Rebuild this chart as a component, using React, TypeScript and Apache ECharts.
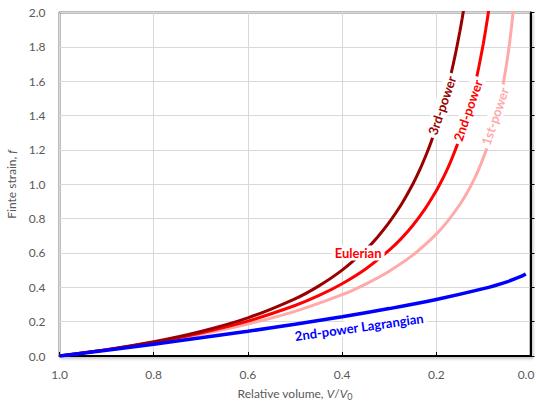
import React, { useEffect, useRef } from "react";
import * as echarts from "echarts";

// Relative volume (V/V0) and finite strain (f)
const thirdV = [1.0, 0.9, 0.8, 0.7, 0.6, 0.5, 0.45, 0.4, 0.35, 0.325, 0.3, 0.275, 0.25, 0.235, 0.22, 0.21, 0.2, 0.18, 0.17, 0.16, 0.15, 0.145, 0.14];
const thirdF = [0, 0.037, 0.083, 0.143, 0.222, 0.333, 0.407, 0.5, 0.619, 0.692, 0.778, 0.879, 1.0, 1.085, 1.182, 1.254, 1.333, 1.519, 1.627, 1.75, 1.889, 1.966, 2.048];

const secondV = [1.0, 0.9, 0.8, 0.7, 0.6, 0.5, 0.45, 0.4, 0.35, 0.3, 0.275, 0.25, 0.225, 0.2, 0.19, 0.18, 0.17, 0.16, 0.15, 0.14, 0.13, 0.12, 0.11, 0.1, 0.095, 0.09, 0.085];
const secondF = [0, 0.036, 0.08, 0.134, 0.203, 0.294, 0.351, 0.421, 0.507, 0.616, 0.682, 0.76, 0.852, 0.962, 1.013, 1.068, 1.129, 1.197, 1.271, 1.354, 1.448, 1.555, 1.678, 1.821, 1.902, 1.99, 2.086];

const firstV = [1.0, 0.9, 0.8, 0.7, 0.6, 0.5, 0.4, 0.35, 0.3, 0.25, 0.2, 0.175, 0.15, 0.135, 0.12, 0.11, 0.1, 0.09, 0.08, 0.07, 0.06, 0.055, 0.05, 0.045, 0.04, 0.036];
const firstF = [0, 0.036, 0.077, 0.126, 0.186, 0.26, 0.357, 0.419, 0.494, 0.587, 0.71, 0.788, 0.882, 0.949, 1.027, 1.087, 1.154, 1.231, 1.321, 1.426, 1.554, 1.63, 1.714, 1.811, 1.924, 2.028];

const lagrangeV = [1.0, 0.9, 0.8, 0.7, 0.6, 0.5, 0.4, 0.3, 0.2, 0.1, 0.05, 0.02, 0.01];
const lagrangeF = [0, 0.034, 0.069, 0.106, 0.144, 0.185, 0.229, 0.276, 0.329, 0.392, 0.432, 0.463, 0.477];

// Curve labels: text, anchor [V/V0, f], rotation
const curveLabels = [
  { text: "3rd-power", at: [0.188, 1.459], rotate: 71 },
  { text: "2nd-power", at: [0.133, 1.43], rotate: 71 },
  { text: "1st-power", at: [0.0755, 1.395], rotate: 71 },
  { text: "Eulerian", at: [0.366, 0.599], rotate: 0 },
  { text: "2nd-power Lagrangian", at: [0.364, 0.169], rotate: 8 },
];

const FONT = "Lato, 'Open Sans', sans-serif";

const zip = (xs: number[], ys: number[]) => xs.map((x, i) => [x, ys[i]]);

const labelItem = (idx: number, color: string) => {
  const l = curveLabels[idx];
  return {
    coord: l.at,
    label: {
      show: true,
      position: "inside",
      formatter: l.text,
      rotate: l.rotate,
      color,
      fontWeight: "bold",
      fontSize: 13,
      fontFamily: FONT,
      backgroundColor: "#ffffff",
      padding: [1, 3, 1, 3],
    },
  };
};

const marks = (items: any[]) => ({
  symbol: "circle",
  symbolSize: 0,
  silent: true,
  data: items,
});

export default function App() {
  const ref = useRef<HTMLDivElement>(null);
  useEffect(() => {
    if (!ref.current) return;
    const chart = echarts.init(ref.current, null, { renderer: "svg" });
    const lineSeries = (name: string, data: number[][], color: string, width: number, mp: any) => ({
      name,
      type: "line",
      data,
      smooth: 0.2,
      showSymbol: false,
      symbol: "none",
      clip: true,
      lineStyle: { color, width },
      itemStyle: { color },
      markPoint: mp,
    });
    chart.setOption({
      animation: false,
      backgroundColor: "#ffffff",
      grid: {
        left: 59.5,
        right: 5.5,
        top: 12.5,
        bottom: 46,
        outerBoundsMode: "none",
        containLabel: false,
        show: true,
        backgroundColor: "#ffffff",
        borderColor: "#000000",
        borderWidth: 1.5,
        shadowColor: "rgba(0,0,0,0.25)",
        shadowBlur: 3,
        shadowOffsetX: 2,
        shadowOffsetY: 2,
      },
      xAxis: {
        type: "value",
        inverse: true,
        min: 0,
        max: 1,
        interval: 0.2,
        name: "{a|Relative volume, }{i|V}{a|/}{i|V}{s|0}",
        nameLocation: "middle",
        nameGap: 30,
        nameTextStyle: {
          rich: {
            a: { fontFamily: FONT, fontSize: 12, color: "#595959" },
            i: { fontFamily: FONT, fontSize: 12, color: "#595959", fontStyle: "italic" },
            s: { fontFamily: FONT, fontSize: 9, color: "#595959", verticalAlign: "bottom", padding: [6, 0, 0, 0] },
          },
        },
        axisLine: { show: true, lineStyle: { color: "#000000", width: 2 } },
        axisTick: { show: true, inside: true, length: 4, lineStyle: { color: "#000000", width: 1 } },
        axisLabel: {
          formatter: (v: number) => (v === 0 ? "{e|0.0}" : v.toFixed(1)),
          color: "#595959",
          fontFamily: FONT,
          fontSize: 12,
          margin: 12,
          rich: {
            e: { color: "#595959", fontFamily: FONT, fontSize: 12, padding: [0, 9, 0, 0] },
          },
        },
        splitLine: { show: true, lineStyle: { color: "#D9D9D9", width: 1 } },
      },
      yAxis: {
        type: "value",
        min: 0,
        max: 2,
        interval: 0.2,
        name: "{a|Finte strain, }{i|f}",
        nameLocation: "middle",
        nameGap: 39,
        nameTextStyle: {
          rich: {
            a: { fontFamily: FONT, fontSize: 12, color: "#595959" },
            i: { fontFamily: FONT, fontSize: 12, color: "#595959", fontStyle: "italic" },
          },
        },
        axisLine: { show: true, lineStyle: { color: "#000000", width: 2 } },
        axisTick: { show: true, inside: true, length: 4, lineStyle: { color: "#000000", width: 1 } },
        axisLabel: {
          formatter: (v: number) => v.toFixed(1),
          color: "#595959",
          fontFamily: FONT,
          fontSize: 12,
          margin: 14,
        },
        splitLine: { show: true, lineStyle: { color: "#D9D9D9", width: 1 } },
      },
      series: [
        lineSeries("1st-power", zip(firstV, firstF), "#FFAAAA", 3, marks([labelItem(2, "#FFAAAA")])),
        lineSeries("2nd-power", zip(secondV, secondF), "#FF0000", 3, marks([labelItem(1, "#FF0000"), labelItem(3, "#FF0000")])),
        lineSeries("3rd-power", zip(thirdV, thirdF), "#990000", 3, marks([labelItem(0, "#990000")])),
        lineSeries("2nd-power Lagrangian", zip(lagrangeV, lagrangeF), "#0000FF", 3.5, marks([labelItem(4, "#0000FF")])),
      ],
    });
    return () => chart.dispose();
  }, []);
  return (
    <div
      ref={ref}
      style={{ position: "fixed", left: 0, top: 0, width: 536, height: 402 }}
    />
  );
}
